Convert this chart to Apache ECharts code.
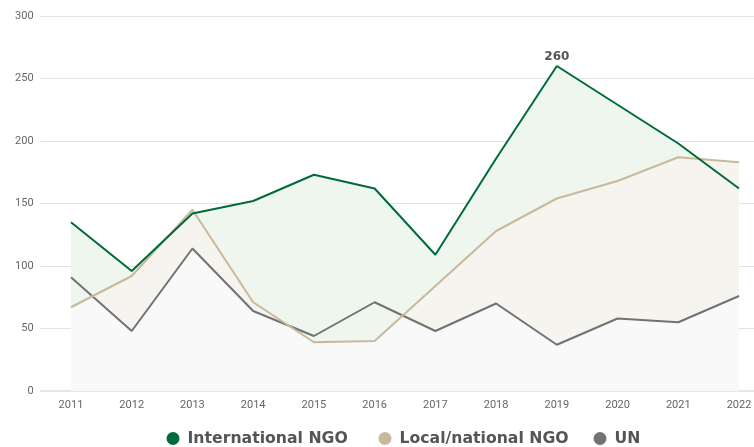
<!DOCTYPE html>
<html>
<head>
<meta charset="utf-8">
<script src="https://cdn.jsdelivr.net/npm/echarts@6/dist/echarts.min.js"></script>
<style>
html,body{margin:0;padding:0;background:#fff;}
#chart{width:754px;height:447px;}
</style>
</head>
<body>
<div id="chart"></div>
<script>
var years = ['2011','2012','2013','2014','2015','2016','2017','2018','2019','2020','2021','2022'];
var intlNGO = [135, 96, 142, 152, 173, 162, 109, 186, 260, 229, 198, 162];
var localNGO = [67, 92, 145, 71, 39, 40, 84, 128, 154, 168, 187, 183];
var unAgencies = [91, 48, 114, 64, 44, 71, 48, 70, 37, 58, 55, 76];
var yTicks = [0, 50, 100, 150, 200, 250, 300];
var labelledYear = '2019';
var seriesNames = ['International NGO', 'Local/national NGO', 'UN'];

var cGreen = '#006b3a', cBeige = '#c9b99c', cGray = '#727272';
var fGreen = '#eef6ee', fBeige = '#f6f4ef', fGray = '#f9f9f9';

var chart = echarts.init(document.getElementById('chart'));

function lowerEnvelope(params, api) {
  var pts = [];
  var n = years.length;
  for (var i = 0; i < n; i++) {
    var pa = api.coord([i, localNGO[i]]);
    var pb = api.coord([i, unAgencies[i]]);
    pts.push([pa[0], Math.max(pa[1], pb[1])]);
    if (i < n - 1) {
      var d0 = localNGO[i] - unAgencies[i];
      var d1 = localNGO[i + 1] - unAgencies[i + 1];
      if (d0 * d1 < 0) {
        var t = d0 / (d0 - d1);
        var qa = api.coord([i + 1, localNGO[i + 1]]);
        pts.push([pa[0] + (qa[0] - pa[0]) * t, pa[1] + (qa[1] - pa[1]) * t]);
      }
    }
  }
  pts.push(api.coord([n - 1, 0]));
  pts.push(api.coord([0, 0]));
  return { type: 'polygon', shape: { points: pts }, style: { fill: fGray, stroke: null } };
}

var legendText = { fontFamily: 'DejaVu Sans', fontWeight: 'bold', fontSize: 15.7, color: '#555555', padding: [0, 0, 0, 3] };
function mkLegend(name, left) {
  return {
    data: [name], left: left, top: 430.5, padding: 0,
    icon: 'circle', itemWidth: 13, itemHeight: 13,
    textStyle: legendText
  };
}

var idx = years.indexOf(labelledYear);

var option = {
  animation: false,
  backgroundColor: '#ffffff',
  grid: { left: 40.6, right: -15.4, top: 16, bottom: 56, containLabel: false, outerBoundsMode: 'none' },
  legend: [
    mkLegend(seriesNames[0], 166.5),
    mkLegend(seriesNames[1], 378.5),
    mkLegend(seriesNames[2], 593.5)
  ],
  xAxis: {
    type: 'category',
    data: years,
    boundaryGap: true,
    axisLine: { show: true, lineStyle: { color: '#e6e6e6', width: 2 } },
    axisTick: { show: false },
    axisLabel: { color: '#666666', fontSize: 11, fontFamily: 'Roboto', margin: 9 },
    splitLine: { show: false }
  },
  yAxis: {
    type: 'value',
    min: yTicks[0],
    max: yTicks[yTicks.length - 1],
    interval: 50,
    axisLine: { show: false },
    axisTick: { show: false },
    axisLabel: { color: '#666666', fontSize: 11, fontFamily: 'Roboto', margin: 7 },
    splitLine: { lineStyle: { color: '#e2e2e2', width: 1 } }
  },
  series: [
    {
      name: 'fill-intl', type: 'line', data: intlNGO, z: 1, silent: true,
      symbol: 'none', lineStyle: { width: 0, opacity: 0 },
      areaStyle: { color: fGreen, opacity: 1 }
    },
    {
      name: 'fill-local', type: 'line', data: localNGO, z: 1, silent: true,
      symbol: 'none', lineStyle: { width: 0, opacity: 0 },
      areaStyle: { color: fBeige, opacity: 1 }
    },
    {
      name: 'fill-low', type: 'custom', coordinateSystem: 'cartesian2d',
      data: [[0, 0]], z: 1, silent: true, clip: false,
      renderItem: lowerEnvelope
    },
    {
      name: seriesNames[2], type: 'line', data: unAgencies, z: 3,
      symbol: 'none', color: cGray,
      lineStyle: { color: cGray, width: 2 }
    },
    {
      name: seriesNames[1], type: 'line', data: localNGO, z: 4,
      symbol: 'none', color: cBeige,
      lineStyle: { color: cBeige, width: 2 }
    },
    {
      name: seriesNames[0], type: 'line', data: intlNGO, z: 5,
      symbol: 'none', color: cGreen,
      lineStyle: { color: cGreen, width: 2 },
      markPoint: {
        symbol: 'circle', symbolSize: 0.01, silent: true,
        itemStyle: { color: 'rgba(0,0,0,0)' },
        label: { show: true, position: 'top', distance: 3, color: '#555555',
                 fontSize: 12, fontWeight: 'bold', fontFamily: 'DejaVu Sans',
                 formatter: '{c}' },
        data: [{ coord: [labelledYear, intlNGO[idx]], value: intlNGO[idx] }]
      }
    }
  ]
};
chart.setOption(option);
</script>
</body>
</html>
